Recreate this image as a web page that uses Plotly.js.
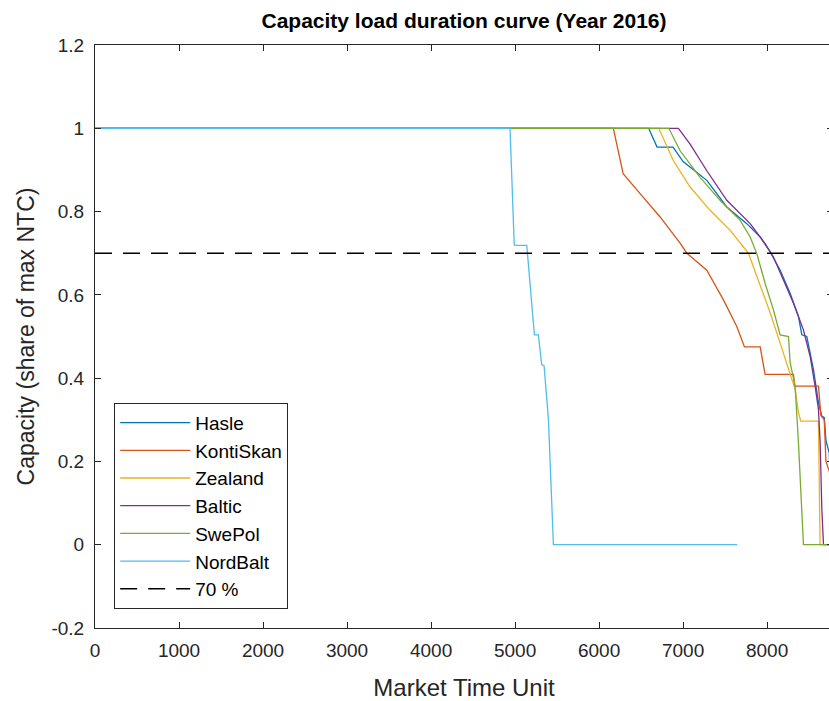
<!DOCTYPE html>
<html>
<head>
<meta charset="utf-8">
<script src="https://cdn.plot.ly/plotly-3.0.1.min.js"></script>
<style>
  html, body { margin: 0; padding: 0; background: #fff; overflow: hidden; }
  #chart { width: 850px; height: 701px; }
</style>
</head>
<body>
<div id="chart"></div>
<script>
// ---- Data ----
const seriesNames = ["Hasle", "KontiSkan", "Zealand", "Baltic", "SwePol", "NordBalt"];

const hasleX = [0, 6590, 6690, 6880, 7000, 7282, 7520, 7758, 7917, 8036, 8155, 8274, 8373, 8413, 8472, 8552, 8611, 8651, 8680, 8700, 8740, 8770, 8784];
const hasleY = [1, 1, 0.955, 0.955, 0.92, 0.875, 0.811, 0.771, 0.739, 0.703, 0.659, 0.604, 0.548, 0.504, 0.50, 0.42, 0.341, 0.309, 0.305, 0.25, 0.22, 0, 0];

const kontiX = [0, 6170, 6210, 6286, 6488, 6726, 6964, 7044, 7282, 7480, 7639, 7730, 7917, 7945, 7976, 8313, 8330, 8611, 8640, 8680, 8700, 8750, 8760, 8784];
const kontiY = [1, 1, 0.962, 0.891, 0.843, 0.787, 0.724, 0.70, 0.659, 0.588, 0.524, 0.475, 0.475, 0.44, 0.409, 0.409, 0.381, 0.381, 0.31, 0.30, 0.20, 0.17, 0, 0];

const zealX = [0, 6710, 6885, 7083, 7321, 7560, 7718, 7778, 7837, 7936, 8036, 8155, 8254, 8333, 8373, 8400, 8611, 8630, 8784];
const zealY = [1, 1, 0.922, 0.859, 0.803, 0.755, 0.715, 0.70, 0.667, 0.612, 0.557, 0.484, 0.42, 0.373, 0.317, 0.297, 0.297, 0, 0];

const balticX = [0, 6944, 7083, 7282, 7520, 7798, 7976, 8036, 8075, 8194, 8313, 8432, 8512, 8571, 8611, 8631, 8651, 8671, 8784];
const balticY = [1, 1, 0.962, 0.898, 0.827, 0.771, 0.723, 0.703, 0.691, 0.636, 0.58, 0.516, 0.452, 0.381, 0.325, 0.245, 0.086, 0, 0];

const swepolX = [0, 6830, 6964, 7202, 7440, 7679, 7798, 7877, 7976, 8075, 8155, 8254, 8274, 8333, 8373, 8413, 8432, 8784];
const swepolY = [1, 1, 0.946, 0.882, 0.827, 0.779, 0.739, 0.699, 0.628, 0.564, 0.504, 0.50, 0.437, 0.381, 0.245, 0.086, 0, 0];

const nordX = [0, 4940, 4990, 5000, 5139, 5230, 5277, 5317, 5345, 5397, 5456, 7643];
const nordY = [1, 1, 0.72, 0.719, 0.719, 0.504, 0.504, 0.432, 0.43, 0.301, 0, 0];

const thresholdX = [0, 8784];
const thresholdY = [0.7, 0.7];
const thresholdName = "70 %";

const xTickVals = [0, 1000, 2000, 3000, 4000, 5000, 6000, 7000, 8000];
const xTickText = ["0", "1000", "2000", "3000", "4000", "5000", "6000", "7000", "8000"];
const yTickVals = [-0.2, 0, 0.2, 0.4, 0.6, 0.8, 1, 1.2];
const yTickText = ["-0.2", "0", "0.2", "0.4", "0.6", "0.8", "1", "1.2"];

// ---- Styles ----
const FONT = "Liberation Sans, Arial, sans-serif";
const colors = ["#0072BD", "#D95319", "#EDB120", "#7E2F8E", "#77AC30", "#4DBEEE"];
const xs = [hasleX, kontiX, zealX, balticX, swepolX, nordX];
const ys = [hasleY, kontiY, zealY, balticY, swepolY, nordY];

const traces = seriesNames.map((n, i) => ({
  x: xs[i], y: ys[i], name: n, type: "scatter", mode: "lines",
  line: { color: colors[i], width: 1.3 }
}));
traces.push({
  x: thresholdX, y: thresholdY, name: thresholdName, type: "scatter", mode: "lines",
  line: { color: "#000000", width: 1.5, dash: "17px,11px" }
});

const axisCommon = {
  showgrid: false, zeroline: false, showline: true, linecolor: "#262626", linewidth: 1,
  ticks: "inside", ticklen: 6, tickcolor: "#262626", mirror: "ticks",
  tickfont: { family: FONT, size: 19, color: "#262626" },
  tickmode: "array"
};

const layout = {
  width: 850, height: 701,
  margin: { l: 95, r: 17, t: 45, b: 73 },
  paper_bgcolor: "#ffffff", plot_bgcolor: "#ffffff",
  font: { family: FONT, color: "#262626" },
  title: {
    text: "<b>Capacity load duration curve (Year 2016)</b>",
    font: { family: FONT, size: 21, color: "#000000" },
    x: 0.5, xref: "paper", xanchor: "center", y: 1, yref: "container", yanchor: "top", pad: { t: 13 }
  },
  xaxis: Object.assign({}, axisCommon, {
    range: [0, 8784], tickvals: xTickVals, ticktext: xTickText, ticklabelstandoff: 5,
    title: { text: "Market Time Unit", font: { family: FONT, size: 24, color: "#262626" }, standoff: 22 }
  }),
  yaxis: Object.assign({}, axisCommon, {
    range: [-0.2, 1.2], tickvals: yTickVals, ticktext: yTickText, ticklabelstandoff: 6,
    title: { text: "Capacity (share of max NTC)", font: { family: FONT, size: 23, color: "#262626" }, standoff: 10 }
  }),
  showlegend: true,
  legend: {
    x: 0.026, y: 0.033, xanchor: "left", yanchor: "bottom", xref: "paper", yref: "paper",
    bgcolor: "#ffffff", bordercolor: "#262626", borderwidth: 1,
    font: { family: FONT, size: 19, color: "#000000" },
    itemwidth: 70, tracegroupgap: 0
  }
};

Plotly.newPlot("chart", traces, layout, { displayModeBar: false, staticPlot: true });
</script>
</body>
</html>
